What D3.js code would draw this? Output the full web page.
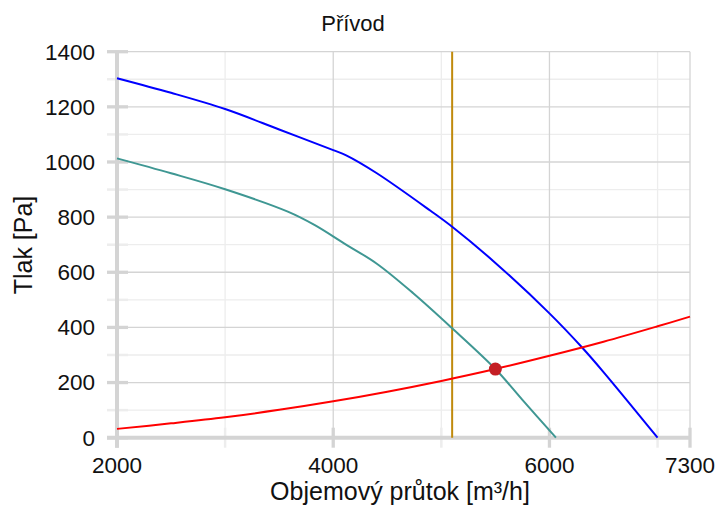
<!DOCTYPE html>
<html><head><meta charset="utf-8">
<script src="https://cdn.jsdelivr.net/npm/d3@7/dist/d3.min.js"></script>
<style>body{margin:0;background:#fff}svg{display:block}text{font-family:"Liberation Sans",Arial,sans-serif;fill:#111}</style>
</head><body>
<svg id="c" width="719" height="518"></svg>
<script>
// ---- data ----
const title = "Přívod";
const xLabel = "Objemový průtok [m³/h]";
const yLabel = "Tlak [Pa]";
const xTickLabels = [2000, 4000, 6000, 7300];
const xMinorTicks = [3000, 5000, 7000];
const yTickLabels = [0, 200, 400, 600, 800, 1000, 1200, 1400];
const yMinorTicks = [100, 300, 500, 700, 900, 1100, 1300];

const maxFlow = [2000, 2500, 3000, 3500, 4000, 4120, 4400, 4900, 5100, 5500, 6000, 6300, 6500, 7000];
const maxPressure = [1304, 1251, 1192, 1118, 1043, 1024, 960, 823, 765, 634, 451, 328, 238, 0];

const opFlow = [2000, 2500, 3000, 3580, 3830, 4100, 4400, 4740, 5100, 5500, 5750, 6060];
const opPressure = [1013, 959, 901, 820, 771, 705, 632, 524, 397, 249, 137, 0];

const sysFlow = [2000, 2500, 3000, 3500, 4000, 4500, 5000, 5500, 6000, 6500, 7000, 7300];
const sysPressure = [32, 52, 74, 101, 132, 167, 206, 249, 297, 348, 404, 439];

const designFlow = [5100];
const workPoint = {flow: [5500], pressure: [249]};

// ---- drawing ----
const svg = d3.select("#c");
const x = d3.scaleLinear().domain([2000, 7300]).range([117, 690]);
const y = d3.scaleLinear().domain([0, 1400]).range([437.7, 51.7]);
const major = "#d4d4d4", minor = "#ededed";

const g = svg.append("g");
g.selectAll(".ymg").data(yMinorTicks).join("line")
  .attr("x1", x(2000)).attr("x2", x(7300)).attr("y1", d => y(d)).attr("y2", d => y(d))
  .attr("stroke", minor).attr("stroke-width", 1.3);
g.selectAll(".xmg").data(xMinorTicks).join("line")
  .attr("x1", d => x(d)).attr("x2", d => x(d)).attr("y1", y(1400)).attr("y2", y(0))
  .attr("stroke", minor).attr("stroke-width", 1.3);
g.selectAll(".ymt").data(yMinorTicks).join("line")
  .attr("x1", x(2000) - 10).attr("x2", x(2000) + 11).attr("y1", d => y(d)).attr("y2", d => y(d))
  .attr("stroke", minor).attr("stroke-width", 2.5);
g.selectAll(".xmt").data(xMinorTicks).join("line")
  .attr("x1", d => x(d)).attr("x2", d => x(d)).attr("y1", y(0) - 10).attr("y2", y(0) + 10)
  .attr("stroke", minor).attr("stroke-width", 2.5);
g.selectAll(".yg").data(yTickLabels).join("line")
  .attr("x1", x(2000)).attr("x2", x(7300)).attr("y1", d => y(d)).attr("y2", d => y(d))
  .attr("stroke", major).attr("stroke-width", 1.3);
g.selectAll(".xg").data(xTickLabels).join("line")
  .attr("x1", d => x(d)).attr("x2", d => x(d)).attr("y1", y(1400)).attr("y2", y(0))
  .attr("stroke", major).attr("stroke-width", 1.3);
g.selectAll(".yt").data(yTickLabels).join("line")
  .attr("x1", x(2000) - 10).attr("x2", x(2000) + 11).attr("y1", d => y(d)).attr("y2", d => y(d))
  .attr("stroke", major).attr("stroke-width", 3.3);
g.selectAll(".xt").data(xTickLabels).join("line")
  .attr("x1", d => x(d)).attr("x2", d => x(d)).attr("y1", y(0) - 10).attr("y2", y(0) + 10)
  .attr("stroke", major).attr("stroke-width", 3.3);
g.append("line").attr("x1", x(2000)).attr("x2", x(2000)).attr("y1", y(1400) - 1).attr("y2", y(0) + 10)
  .attr("stroke", major).attr("stroke-width", 4);
g.append("line").attr("x1", x(2000) - 10).attr("x2", x(7300)).attr("y1", y(0)).attr("y2", y(0))
  .attr("stroke", major).attr("stroke-width", 4);

svg.selectAll(".yl").data(yTickLabels).join("text")
  .attr("x", 95).attr("y", d => y(d)).attr("dy", "0.35em").attr("text-anchor", "end")
  .style("font-size", "22.5px").text(d => d);
svg.selectAll(".xl").data(xTickLabels).join("text")
  .attr("x", d => x(d)).attr("y", 473).attr("text-anchor", "middle")
  .style("font-size", "22.5px").text(d => d);

svg.append("text").attr("x", 353).attr("y", 30.5).attr("text-anchor", "middle")
  .style("font-size", "22px").text(title);
svg.append("text").attr("x", 400).attr("y", 500).attr("text-anchor", "middle")
  .style("font-size", "25px").text(xLabel);
svg.append("text").attr("transform", "translate(32,245) rotate(-90)").attr("text-anchor", "middle")
  .style("font-size", "25px").text(yLabel);

const line = d3.line().x(d => x(d[0])).y(d => y(d[1])).curve(d3.curveCatmullRom.alpha(0.5));
const zip = (a, b) => a.map((v, i) => [v, b[i]]);

svg.selectAll(".dl").data(designFlow).join("line")
  .attr("x1", d => x(d)).attr("x2", d => x(d)).attr("y1", y(1400)).attr("y2", y(0))
  .attr("stroke", "#c08a0c").attr("stroke-width", 2);

svg.append("path").attr("d", line(zip(maxFlow, maxPressure)))
  .attr("fill", "none").attr("stroke", "#0000ff").attr("stroke-width", 2);
svg.append("path").attr("d", line(zip(opFlow, opPressure)))
  .attr("fill", "none").attr("stroke", "#3f9793").attr("stroke-width", 2);
svg.append("path").attr("d", line(zip(sysFlow, sysPressure)))
  .attr("fill", "none").attr("stroke", "#ff0000").attr("stroke-width", 2);

svg.selectAll(".wp").data(workPoint.flow).join("circle")
  .attr("cx", d => x(d)).attr("cy", (d, i) => y(workPoint.pressure[i])).attr("r", 6.5)
  .attr("fill", "#c41e24");
</script>
</body></html>
